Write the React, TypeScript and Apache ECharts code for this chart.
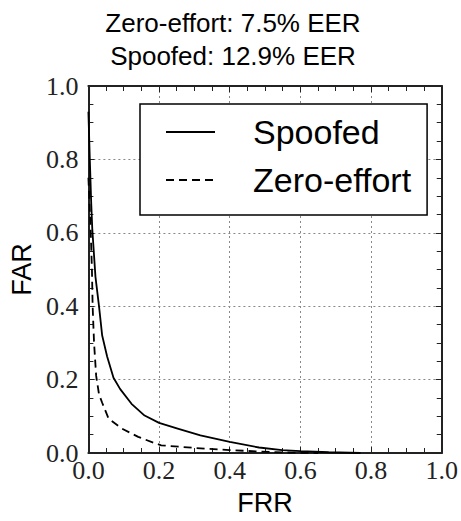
import React, { useEffect, useRef } from "react";
import * as echarts from "echarts";

const titleLines = ["Zero-effort: 7.5% EER", "Spoofed: 12.9% EER"];
const seriesNames = ["Spoofed", "Zero-effort"];

const spoofedFRR = [0.0, 0.004, 0.008, 0.011, 0.02, 0.03, 0.039, 0.053, 0.071, 0.09, 0.122, 0.159, 0.2, 0.255, 0.317, 0.4, 0.483, 0.548, 0.6, 0.68, 0.77];
const spoofedFAR = [0.93, 0.8, 0.68, 0.61, 0.48, 0.4, 0.32, 0.263, 0.205, 0.174, 0.134, 0.102, 0.082, 0.066, 0.048, 0.03, 0.015, 0.008, 0.005, 0.002, 0.0];

const zeroFRR = [0.0, 0.006, 0.01, 0.012, 0.016, 0.022, 0.03, 0.039, 0.057, 0.094, 0.141, 0.187, 0.206, 0.298, 0.4, 0.483, 0.575, 0.65];
const zeroFAR = [0.75, 0.62, 0.5, 0.4, 0.3, 0.21, 0.16, 0.137, 0.094, 0.067, 0.044, 0.027, 0.021, 0.014, 0.008, 0.004, 0.001, 0.0];

const pairs = (xs: number[], ys: number[]) => xs.map((x, i) => [x, ys[i]]);

const serif = "'Liberation Serif', 'Times New Roman', serif";
const sans = "'Liberation Sans', Arial, sans-serif";

export default function App() {
  const ref = useRef<HTMLDivElement>(null);
  useEffect(() => {
    if (!ref.current) return;
    const chart = echarts.init(ref.current, null, { renderer: "svg" });
    const lineCol = "#222";
    const baseAxis = {
      type: "value" as const,
      min: 0,
      max: 1,
      interval: 0.2,
      axisLine: { show: true, onZero: false, lineStyle: { color: lineCol, width: 2 } },
      axisTick: { show: true, inside: true, length: 6, lineStyle: { color: lineCol, width: 1 } },
      minorTick: { show: true, splitNumber: 4, length: 5, lineStyle: { color: lineCol, width: 1 } },
    };
    const fmt = (v: number) => v.toFixed(1);
    chart.setOption({
      animation: false,
      backgroundColor: "#fff",
      title: {
        text: titleLines.join("\n"),
        left: 233,
        top: 6,
        padding: 0,
        textAlign: "center",
        textStyle: { fontFamily: sans, fontSize: 26, fontWeight: "normal", color: "#000", lineHeight: 33 },
      },
      legend: {
        orient: "vertical",
        left: 140,
        top: 104,
        padding: [11, 16, 18, 25],
        itemGap: 14,
        itemWidth: 49,
        itemHeight: 34,
        borderColor: "#000",
        borderWidth: 1.5,
        backgroundColor: "#fff",
        data: seriesNames,
        itemStyle: { opacity: 0 },
        textStyle: { fontFamily: sans, fontSize: 34, color: "#000", padding: [0, 0, 0, 33] },
      },
      grid: { left: 86, top: 86, width: 360, height: 372, containLabel: false },
      xAxis: [
        {
          ...baseAxis,
          position: "bottom",
          name: "FRR",
          nameLocation: "middle",
          nameGap: 36,
          nameTextStyle: { fontFamily: sans, fontSize: 27, color: "#000" },
          axisLabel: { fontFamily: serif, fontSize: 26, color: "#222", margin: 4, formatter: fmt, showMaxLabel: true },
          splitLine: { show: true, lineStyle: { color: "#888", width: 1, type: [2, 3] } },
        },
        {
          ...baseAxis,
          position: "top",
          axisLabel: { show: false },
          splitLine: { show: false },
        },
      ],
      yAxis: [
        {
          ...baseAxis,
          position: "left",
          name: "FAR",
          nameLocation: "middle",
          nameGap: 53,
          nameTextStyle: { fontFamily: sans, fontSize: 27, color: "#000" },
          axisLabel: { fontFamily: serif, fontSize: 26, color: "#222", margin: 10, formatter: fmt },
          splitLine: { show: true, lineStyle: { color: "#888", width: 1, type: [2, 3] } },
        },
        {
          ...baseAxis,
          position: "right",
          axisLabel: { show: false },
          splitLine: { show: false },
        },
      ],
      series: [
        {
          name: seriesNames[0],
          type: "line",
          data: pairs(spoofedFRR, spoofedFAR),
          symbol: "none",
          lineStyle: { color: "#000", width: 1.8, type: "solid" },
          itemStyle: { color: "#000" },
          z: 3,
        },
        {
          name: seriesNames[1],
          type: "line",
          data: pairs(zeroFRR, zeroFAR),
          symbol: "none",
          lineStyle: { color: "#000", width: 1.8, type: [8, 5] },
          itemStyle: { color: "#000" },
          z: 3,
        },
      ],
    });
    return () => chart.dispose();
  }, []);
  return <div ref={ref} style={{ width: 461, height: 521, position: "absolute", left: 0, top: 0 }} />;
}
